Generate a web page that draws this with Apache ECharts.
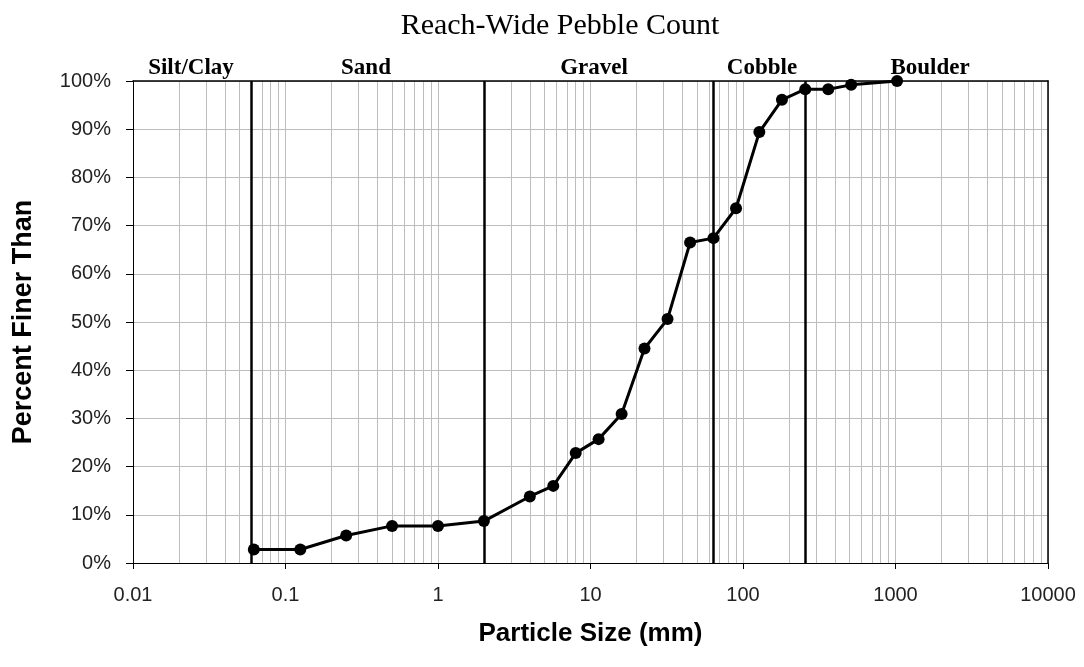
<!DOCTYPE html>
<html lang="en">
<head>
    <meta charset="UTF-8">
    <script src="https://cdn.jsdelivr.net/npm/echarts@6/dist/echarts.min.js"></script>
    <style>
        html, body { margin: 0; padding: 0; background: #fff; }
        #chart { width: 1084px; height: 667px; }
    </style>
</head>
<body>
<div id="chart"></div>
<script>
    // particle size (mm) and cumulative percent finer
    var sizes = [0.062, 0.125, 0.25, 0.5, 1, 2, 4, 5.7, 8, 11.3, 16, 22.6, 32, 45, 64, 90, 128, 180, 256, 362, 512, 1024];
    var percents = [2.8, 2.8, 5.7, 7.7, 7.7, 8.7, 13.8, 16.0, 22.8, 25.7, 30.9, 44.5, 50.6, 66.5, 67.4, 73.6, 89.4, 96.1, 98.3, 98.3, 99.2, 100];
    // size class boundaries and names
    var classBounds = [0.062, 2, 64, 256];
    var classNames = ['Silt/Clay', 'Sand', 'Gravel', 'Cobble', 'Boulder'];
    var xTicks = [0.01, 0.1, 1, 10, 100, 1000, 10000];

    // label centres in pixels (layout only)
    var classLabelX = [191, 366, 594, 762, 930];

    var myChart = echarts.init(document.getElementById('chart'));

    // minor log grid lines 2..9 in each decade
    var minorLines = [];
    for (var d = 0; d < xTicks.length - 1; d++) {
        for (var k = 2; k <= 9; k++) {
            minorLines.push({xAxis: xTicks[d] * k});
        }
    }

    var points = sizes.map(function (s, i) { return [s, percents[i]]; });

    var gridColor = '#bdbdbd';
    var option = {
        animation: false,
        title: {
            text: 'Reach-Wide Pebble Count',
            left: 555,
            top: 6,
            textAlign: 'center',
            textStyle: {fontFamily: 'Liberation Serif', fontSize: 30, fontWeight: 'normal', color: '#000'}
        },
        grid: {left: 133, right: 36, top: 81, bottom: 104},
        xAxis: [{
            type: 'log',
            logBase: 10,
            min: xTicks[0],
            max: xTicks[xTicks.length - 1],
            name: 'Particle Size (mm)',
            nameLocation: 'middle',
            nameGap: 58,
            nameTextStyle: {fontFamily: 'Liberation Sans', fontSize: 26, fontWeight: 'bold', color: '#000'},
            axisLine: {lineStyle: {color: '#000', width: 1}},
            axisTick: {length: 6, lineStyle: {color: '#000'}},
            axisLabel: {
                margin: 22,
                fontFamily: 'Liberation Sans', fontSize: 20, color: '#222',
                formatter: function (v) { return String(+(+v).toPrecision(6)); }
            },
            splitLine: {show: true, lineStyle: {color: gridColor, width: 1}}
        }, {
            // top frame line
            type: 'log',
            logBase: 10,
            position: 'top',
            min: xTicks[0],
            max: xTicks[xTicks.length - 1],
            axisLine: {show: true, onZero: false, lineStyle: {color: '#000', width: 1.5}},
            axisTick: {show: false},
            axisLabel: {show: false},
            splitLine: {show: false},
            z: 8
        }],
        yAxis: [{
            type: 'value',
            min: 0,
            max: 100,
            interval: 10,
            name: 'Percent Finer Than',
            nameLocation: 'middle',
            nameGap: 96,
            nameTextStyle: {fontFamily: 'Liberation Sans', fontSize: 27, fontWeight: 'bold', color: '#000'},
            axisLine: {show: true, lineStyle: {color: '#000', width: 1}},
            axisTick: {show: true, length: 7, lineStyle: {color: '#000'}},
            axisLabel: {
                margin: 22,
                fontFamily: 'Liberation Sans', fontSize: 20, color: '#222',
                formatter: '{value}%'
            },
            splitLine: {show: true, lineStyle: {color: gridColor, width: 1}}
        }, {
            // right frame line
            type: 'value',
            position: 'right',
            min: 0,
            max: 100,
            interval: 10,
            axisLine: {show: true, onZero: false, lineStyle: {color: '#000', width: 1.5}},
            axisTick: {show: false},
            axisLabel: {show: false},
            splitLine: {show: false},
            z: 8
        }],
        graphic: classNames.map(function (n, i) {
            return {
                type: 'text',
                x: classLabelX[i],
                y: 68,
                z: 10,
                style: {
                    text: n,
                    textAlign: 'center',
                    textVerticalAlign: 'middle',
                    font: 'bold 23px "Liberation Serif"',
                    fill: '#000'
                }
            };
        }),
        series: [
            {
                name: 'minor',
                type: 'line',
                data: [],
                z: 1,
                silent: true,
                markLine: {
                    silent: true,
                    symbol: 'none',
                    label: {show: false},
                    lineStyle: {color: gridColor, width: 1, type: 'solid'},
                    data: minorLines
                }
            },
            {
                name: 'bounds',
                type: 'line',
                data: [],
                z: 2,
                silent: true,
                markLine: {
                    silent: true,
                    symbol: 'none',
                    label: {show: false},
                    lineStyle: {color: '#000', width: 2.5, type: 'solid'},
                    data: classBounds.map(function (b) { return {xAxis: b}; })
                }
            },
            {
                name: 'Percent Finer',
                type: 'line',
                data: points,
                z: 5,
                symbol: 'circle',
                symbolSize: 12,
                lineStyle: {color: '#000', width: 3},
                itemStyle: {color: '#000'}
            }
        ]
    };
    myChart.setOption(option);
</script>
</body>
</html>
